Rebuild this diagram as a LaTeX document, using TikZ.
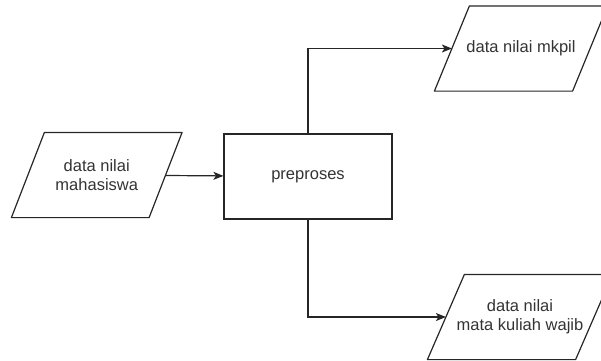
\documentclass[tikz,border=0pt]{standalone}
\usepackage{fontspec}
\setmainfont{Liberation Sans}
\usetikzlibrary{arrows.meta, positioning}

\begin{document}
\begin{tikzpicture}[x=1pt, y=-1pt,
    every node/.style={draw, line width=1.2pt, align=center, font=\fontsize{16.5}{19}\selectfont, text=black!80},
    iobox/.style={rectangle, draw=none, minimum height=84pt, inner sep=0pt},
    procbox/.style={rectangle, draw=black!85, minimum width=168pt, minimum height=85pt},
    outline/.style={draw=black!85, line width=1.2pt, line join=round},
    flow/.style={-{Stealth[length=10pt, width=8pt, inset=2.5pt]}, draw=black!85, line width=1.2pt},
    >=latex
  ]
    \useasboundingbox (0,0) rectangle (601,360);

    % input and process
    \node[iobox, minimum width=136.5pt] (mahasiswa) at (96.75,175) {data nilai\\mahasiswa};
    \node[procbox] (preproses) at (308,176.5) {preproses};

    % outputs
    \node[iobox, minimum width=137pt] (mkpil) at (521,48.5) {data nilai mkpil};
    \node[iobox, minimum width=147pt] (wajib) at (520,317) {data nilai\\mata kuliah wajib};

    % parallelogram outlines
    \draw[outline] ([xshift=16.5pt]mahasiswa.north west) -- ([xshift=16.5pt]mahasiswa.north east) -- ([xshift=-16.5pt]mahasiswa.south east) -- ([xshift=-16.5pt]mahasiswa.south west) -- cycle;
    \draw[outline] ([xshift=17.5pt]mkpil.north west) -- ([xshift=17.5pt]mkpil.north east) -- ([xshift=-17.5pt]mkpil.south east) -- ([xshift=-17.5pt]mkpil.south west) -- cycle;
    \draw[outline] ([xshift=18.5pt]wajib.north west) -- ([xshift=18.5pt]wajib.north east) -- ([xshift=-18.5pt]wajib.south east) -- ([xshift=-18.5pt]wajib.south west) -- cycle;

    % connectors
    \draw[flow] (mahasiswa) -- (preproses);
    \draw[flow] (preproses.north) |- (mkpil.west);
    \draw[flow] (preproses.south) |- (wajib.west);

\end{tikzpicture}
\end{document}
